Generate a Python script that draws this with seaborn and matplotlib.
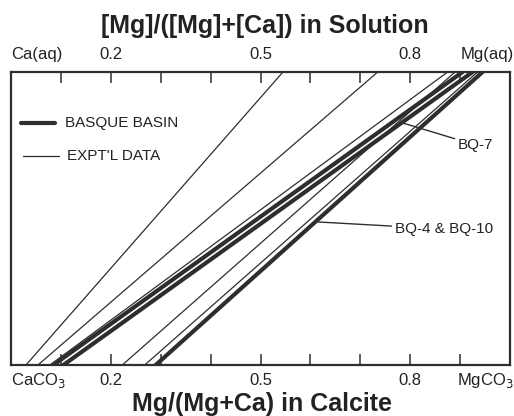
import matplotlib
matplotlib.use("Agg")
import matplotlib.pyplot as plt
import seaborn as sns
import pandas as pd

# Mg fraction in calcite (bottom) and in solution (top) for each tie-line
expt_calcite = [0.030, 0.054, 0.078, 0.223, 0.268]
expt_solution = [0.545, 0.735, 0.875, 0.890, 0.935]
basque_names = ["BQ-7a", "BQ-7", "BQ-4 & BQ-10"]
basque_calcite = [0.085, 0.105, 0.290]
basque_solution = [0.905, 0.925, 0.945]

tick_vals = [0.1, 0.2, 0.3, 0.4, 0.5, 0.6, 0.7, 0.8, 0.9]
tick_labels = ["", "0.2", "", "", "0.5", "", "", "0.8", ""]
top_ends = ["Ca(aq)", "Mg(aq)"]
bottom_ends = ["CaCO$_3$", "MgCO$_3$"]

rows = []
for i, (c, s) in enumerate(zip(expt_calcite, expt_solution)):
    rows += [dict(line=f"e{i}", kind="expt", x=c, y=0.0), dict(line=f"e{i}", kind="expt", x=s, y=1.0)]
for n, c, s in zip(basque_names, basque_calcite, basque_solution):
    rows += [dict(line=n, kind="basque", x=c, y=0.0), dict(line=n, kind="basque", x=s, y=1.0)]
df = pd.DataFrame(rows)

sns.set_style("white")
plt.rcParams["font.family"] = ["Liberation Sans", "DejaVu Sans"]

W, H = 514, 416
fig = plt.figure(figsize=(W / 100, H / 100), dpi=100)
ax = fig.add_axes([11 / W, (H - 365) / H, (510 - 11) / W, (365 - 72) / H])
ink = "#2e2e2e"
tink = "#222222"

for (name, kind), g in df.groupby(["line", "kind"]):
    sns.lineplot(data=g, x="x", y="y", ax=ax, color=ink, estimator=None, sort=False,
                 linewidth=3.0 if kind == "basque" else 0.9, legend=False)

ax.set_xlim(0, 1)
ax.set_ylim(0, 1)
ax.set_xlabel("")
ax.set_ylabel("")
ax.set_yticks([])
for sp in ax.spines.values():
    sp.set_color(ink)
    sp.set_linewidth(1.6)

ax.set_xticks(tick_vals)
ax.set_xticklabels([])
ax.tick_params(axis="x", which="major", direction="in", length=8, width=1.1, color=ink,
               bottom=True, top=True, labeltop=False, labelbottom=False)


def px(xp, yp):
    return ((xp - 11) / 498, (365 - yp) / 293)


# tick labels (top and bottom) on shared baselines
for v, lab in zip(tick_vals, tick_labels):
    if lab:
        ax.text(v, px(0, 59)[1], lab, ha="center", va="baseline", fontsize=12, color=tink)
        ax.text(v, px(0, 385)[1], lab, ha="center", va="baseline", fontsize=12, color=tink)
ax.text(px(37, 0)[0], px(0, 59)[1], top_ends[0], ha="center", va="baseline", fontsize=12, color=tink)
ax.text(px(486, 0)[0], px(0, 59)[1], top_ends[1], ha="center", va="baseline", fontsize=12, color=tink)
ax.text(px(38, 0)[0], px(0, 385)[1], bottom_ends[0], ha="center", va="baseline", fontsize=12, color=tink)
ax.text(px(484, 0)[0], px(0, 385)[1], bottom_ends[1], ha="center", va="baseline", fontsize=12, color=tink)

# axis titles
fig.text(265 / W, 1 - 33 / H, "[Mg]/([Mg]+[Ca]) in Solution", ha="center", va="baseline",
         fontsize=18, fontweight="bold", color=tink)
fig.text(262 / W, 1 - 411 / H, "Mg/(Mg+Ca) in Calcite", ha="center", va="baseline",
         fontsize=18, fontweight="bold", color=tink)

# legend
x0, y0 = px(21, 123); x1, _ = px(55, 123)
ax.plot([x0, x1], [y0, y0], color=ink, lw=3.0)
ax.text(px(65, 123)[0], y0, "BASQUE BASIN", va="center", ha="left", fontsize=11, color=tink)
x0, y0 = px(23, 156); x1, _ = px(59, 156)
ax.plot([x0, x1], [y0, y0], color=ink, lw=0.9)
ax.text(px(67, 156)[0], y0, "EXPT'L DATA", va="center", ha="left", fontsize=11, color=tink)

# annotations
ax.annotate("BQ-7", xy=px(402, 123), xytext=px(457, 145), ha="left", va="center", fontsize=11, color=tink,
            arrowprops=dict(arrowstyle="-", color=ink, lw=1.0, shrinkA=0, shrinkB=0))
ax.annotate("BQ-4 & BQ-10", xy=px(318, 222), xytext=px(394, 229), ha="left", va="center", fontsize=11, color=tink,
            arrowprops=dict(arrowstyle="-", color=ink, lw=1.0, shrinkA=0, shrinkB=0))

fig.savefig("out.png", dpi=100, facecolor="white")
